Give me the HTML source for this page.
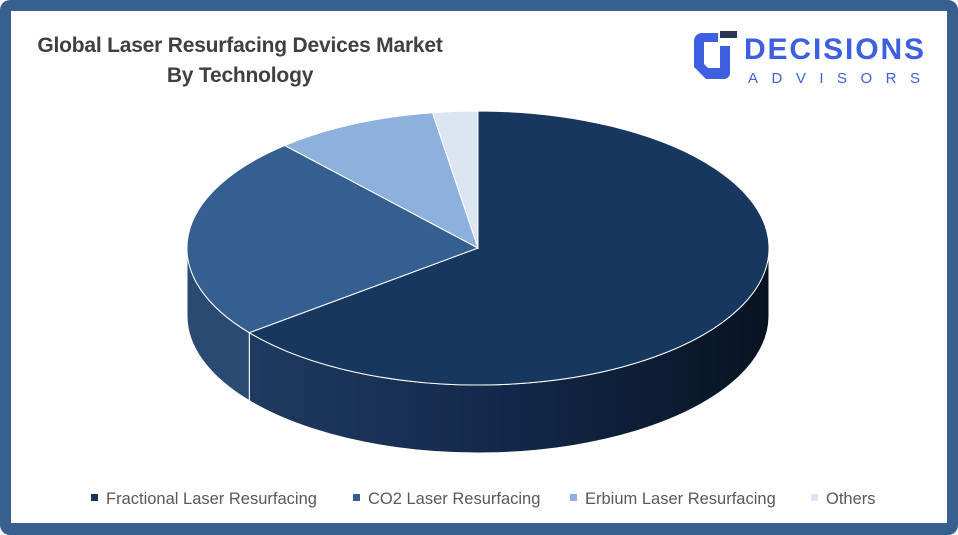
<!DOCTYPE html>
<html><head><style>
body{margin:0;width:958px;height:535px;background:#fff;overflow:hidden}
.outer{position:absolute;left:0;top:0;width:958px;height:535px;background:#37608f;border-radius:10px}
.inner{position:absolute;left:11px;top:11px;width:936px;height:512px;background:#fff}
.t{position:absolute;left:0;width:480px;text-align:center;font:bold 21px "Liberation Sans",sans-serif;color:#404040;letter-spacing:-0.2px}
.leg{position:absolute;top:490px;font:16.5px "Liberation Sans",sans-serif;color:#595959;white-space:nowrap}
.leg i{display:inline-block;width:7px;height:7px;margin-right:8px;vertical-align:middle;position:relative;top:-2px}
</style></head><body>
<div class="outer"></div><div class="inner"></div>
<div class="t" style="top:34px">Global Laser Resurfacing Devices Market</div>
<div class="t" style="top:64px">By Technology</div>
<svg style="position:absolute;left:0;top:0" width="958" height="535">
<defs>
<linearGradient id="g1" x1="0" x2="1"><stop offset="0" stop-color="#1f3a60"/><stop offset="0.5" stop-color="#12284a"/><stop offset="1" stop-color="#081322"/></linearGradient>
</defs>
<path d="M718 33 h-16 a8 8 0 0 0 -8 8 v26 l12 12 h18 a6 6 0 0 0 6 -6 v-27 h-10 v22 h-12 l-4 -4 v-22 h14z" fill="#3d5fe0"/>
<rect x="720" y="31" width="17" height="7" fill="#2a3550"/>
<text x="744" y="59" font-family="Liberation Sans,sans-serif" font-weight="bold" font-size="30" fill="#3d5fe0" textLength="180">DECISIONS</text>
<text x="748" y="83" font-family="Liberation Sans,sans-serif" font-size="15" fill="#3d5fe0" textLength="172">ADVISORS</text>
<path d="M769 248 A291 137 0 0 1 249.3 332.7 L249.3 400.7 A291 137 0 0 0 769 316 Z" fill="url(#g1)" stroke="#fff" stroke-width="1"/>
<path d="M249.3 332.7 A291 137 0 0 1 187 248 L187 316 A291 137 0 0 0 249.3 400.7 Z" fill="#2a4a72" stroke="#fff" stroke-width="1"/>
<path d="M478 248 L478 111 A291 137 0 1 1 249.3 332.7 Z" fill="#17375e" stroke="#fff" stroke-width="1"/>
<path d="M478 248 L249.3 332.7 A291 137 0 0 1 284.8 145.5 Z" fill="#355f91" stroke="#fff" stroke-width="1"/>
<path d="M478 248 L284.8 145.5 A291 137 0 0 1 432.5 112.7 Z" fill="#8db0dd" stroke="#fff" stroke-width="1"/>
<path d="M478 248 L432.5 112.7 A291 137 0 0 1 478 111 Z" fill="#dce6f2" stroke="#fff" stroke-width="1"/>
</svg>
<div class="leg" style="left:91px"><i style="background:#17375e"></i>Fractional Laser Resurfacing</div>
<div class="leg" style="left:353px"><i style="background:#355f91"></i>CO2 Laser Resurfacing</div>
<div class="leg" style="left:570px"><i style="background:#8db0dd"></i>Erbium Laser Resurfacing</div>
<div class="leg" style="left:811px"><i style="background:#dce6f2"></i>Others</div>
</body></html>
